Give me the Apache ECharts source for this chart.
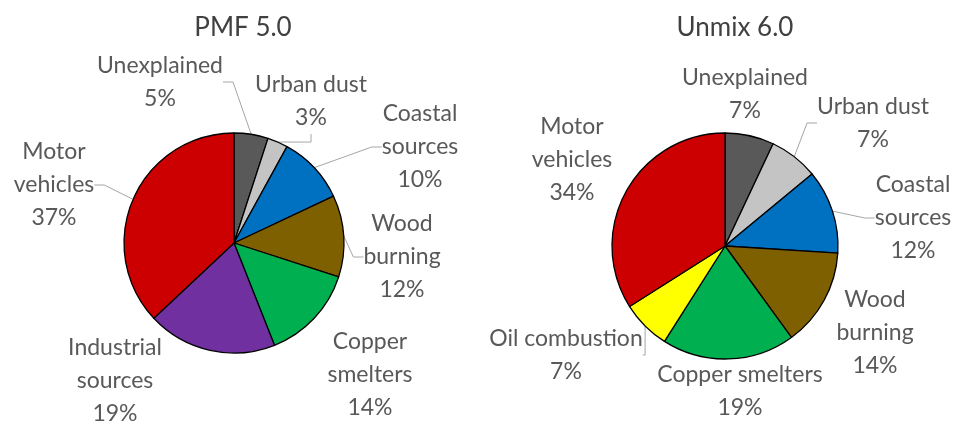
<!DOCTYPE html>
<html>
<head>
<meta charset="utf-8">
<script src="https://cdn.jsdelivr.net/npm/echarts@6/dist/echarts.min.js"></script>
<style>html,body{margin:0;padding:0;background:#fff;}#c{width:958px;height:422px;}</style>
</head>
<body>
<div id="c"></div>
<script>
// ---- data ----
var titles = ['PMF 5.0', 'Unmix 6.0'];
var pmfCategories = ['Unexplained', 'Urban dust', 'Coastal\nsources', 'Wood\nburning', 'Copper\nsmelters', 'Industrial\nsources', 'Motor\nvehicles'];
var pmfValues = [5, 3, 10, 12, 14, 19, 37];
var unmixCategories = ['Unexplained', 'Urban dust', 'Coastal\nsources', 'Wood\nburning', 'Copper smelters', 'Oil combustion', 'Motor\nvehicles'];
var unmixValues = [7, 7, 12, 14, 19, 7, 34];

// ---- styles / layout (not data) ----
var pmfColors = ['#595959', '#c4c4c4', '#0070c0', '#7f6000', '#00b050', '#7030a0', '#cc0000'];
var unmixColors = ['#595959', '#c4c4c4', '#0070c0', '#7f6000', '#00b050', '#ffff00', '#cc0000'];
var pmfLabelPos = [[160, 82], [311, 101], [420, 147], [402, 257], [370, 375], [115, 381], [54, 185]];
var unmixLabelPos = [[745, 94], [873, 123], [913, 218], [875, 333], [740, 391], [566, 355], [572, 160]];
var pmfLeader = [true, true, true, true, false, false, true];
var unmixLeader = [false, true, true, false, false, true, false];

function buildData(cats, vals, colors, leader) {
  return cats.map(function (c, i) {
    return {
      name: c, value: vals[i],
      itemStyle: { color: colors[i] },
      labelLine: { show: leader[i] }
    };
  });
}

function makeSeries(cats, vals, colors, leader, center, radius, pos) {
  return {
    type: 'pie',
    center: center,
    radius: radius,
    startAngle: 90,
    clockwise: true,
    avoidLabelOverlap: false,
    animation: false,
    silent: true,
    itemStyle: { borderColor: '#000', borderWidth: 1.3 },
    label: {
      show: true,
      position: 'outside',
      formatter: '{b}\n{c}%',
      fontFamily: 'Lato',
      fontSize: 23,
      lineHeight: 33,
      color: '#595959',
      align: 'center'
    },
    labelLine: {
      show: true,
      length: 10,
      length2: 10,
      lineStyle: { color: '#a6a6a6', width: 1 }
    },
    labelLayout: function (p) {
      var q = pos[p.dataIndex];
      return { x: q[0], y: q[1], align: 'center', verticalAlign: 'middle' };
    },
    emphasis: { disabled: true },
    data: buildData(cats, vals, colors, leader)
  };
}

var chart = echarts.init(document.getElementById('c'), null, { renderer: 'canvas' });
chart.setOption({
  backgroundColor: '#ffffff',
  title: [
    { text: titles[0], left: 238, top: 10, textAlign: 'center',
      textStyle: { fontFamily: 'Lato', fontSize: 26, fontWeight: 'normal', color: '#404040' } },
    { text: titles[1], left: 730, top: 10, textAlign: 'center',
      textStyle: { fontFamily: 'Lato', fontSize: 26, fontWeight: 'normal', color: '#404040' } }
  ],
  series: [
    makeSeries(pmfCategories, pmfValues, pmfColors, pmfLeader, [234, 243], 110, pmfLabelPos),
    makeSeries(unmixCategories, unmixValues, unmixColors, unmixLeader, [725, 246], 113, unmixLabelPos)
  ]
});
</script>
</body>
</html>
